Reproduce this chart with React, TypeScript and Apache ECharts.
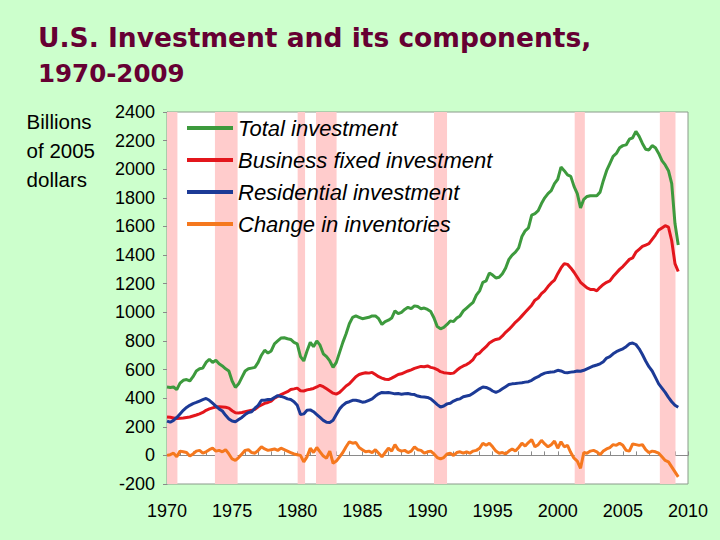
import React, { useEffect, useRef } from "react";
import * as echarts from "echarts";

// Quarterly data, 1970Q1 .. 2009Q2 (billions of 2005 dollars)
const startYear = 1970;

const totalInvestment = [
  478, 475, 478, 460, // 1970
  505, 525, 530, 520, // 1971
  550, 590, 605, 610, // 1972
  650, 672, 650, 665, // 1973
  640, 625, 605, 590, // 1974
  520, 475, 500, 545, // 1975
  590, 605, 610, 615, // 1976
  650, 700, 735, 715, // 1977
  730, 780, 800, 820, // 1978
  822, 815, 810, 790, // 1979
  780, 690, 660, 730, // 1980
  790, 760, 800, 770, // 1981
  710, 690, 660, 615, // 1982
  650, 720, 790, 850, // 1983
  920, 965, 975, 965, // 1984
  955, 960, 965, 975, // 1985
  975, 955, 915, 935, // 1986
  945, 960, 1010, 990, // 1987
  1000, 1020, 1035, 1025, // 1988
  1045, 1040, 1025, 1030, // 1989
  1020, 1005, 960, 900, // 1990
  885, 895, 915, 940, // 1991
  935, 960, 975, 1010, // 1992
  1030, 1050, 1070, 1120, // 1993
  1150, 1210, 1220, 1275, // 1994
  1260, 1240, 1245, 1270, // 1995
  1310, 1370, 1400, 1420, // 1996
  1450, 1530, 1570, 1590, // 1997
  1680, 1690, 1710, 1760, // 1998
  1800, 1830, 1850, 1900, // 1999
  1930, 2015, 1990, 1960, // 2000
  1950, 1880, 1830, 1730, // 2001
  1790, 1810, 1815, 1815, // 2002
  1815, 1840, 1920, 1990, // 2003
  2040, 2090, 2110, 2150, // 2004
  2165, 2170, 2210, 2220, // 2005
  2265, 2230, 2180, 2140, // 2006
  2135, 2165, 2150, 2110, // 2007
  2060, 2030, 1990, 1900, // 2008
  1620, 1470, // 2009
];

const businessFixed = [
  268, 266, 262, 258,
  260, 262, 265, 268,
  275, 282, 290, 300,
  315, 325, 332, 338,
  340, 338, 336, 330,
  312, 298, 296, 300,
  305, 310, 315, 322,
  340, 352, 364, 370,
  380, 400, 412, 425,
  435, 445, 460, 465,
  470, 452, 450, 458,
  462, 468, 478, 490,
  480, 465, 450, 435,
  428, 440, 462, 485,
  500, 525, 550, 565,
  572, 578, 575, 580,
  565, 550, 540, 532,
  530, 540, 552, 565,
  570, 580, 590, 598,
  608, 615, 622, 620,
  625, 615, 610, 600,
  585, 578, 575, 572,
  575, 595, 612, 625,
  635, 650, 670, 705,
  715, 740, 760, 785,
  800, 810, 815, 835,
  860, 880, 905, 930,
  950, 975, 1000, 1025,
  1050, 1085, 1100, 1130,
  1150, 1180, 1205, 1225,
  1270, 1310, 1340, 1335,
  1310, 1280, 1245, 1210,
  1190, 1170, 1160, 1160,
  1150, 1175, 1195, 1210,
  1220, 1250, 1275, 1300,
  1320, 1345, 1370, 1380,
  1420, 1440, 1460, 1470,
  1480, 1510, 1540, 1575,
  1590, 1605, 1595, 1500,
  1340, 1285,
];

const residential = [
  240, 232, 245, 265,
  290, 315, 335, 350,
  362, 370, 380, 390,
  398, 385, 365, 345,
  325, 310, 280, 255,
  240, 235, 250, 265,
  285, 300, 305, 330,
  350, 385, 385, 390,
  390, 405, 418, 412,
  405, 395, 390, 375,
  350, 285, 290, 315,
  318, 305, 285, 265,
  245, 232, 230, 245,
  285, 325, 350, 368,
  375, 385, 385, 380,
  372, 375, 385, 395,
  415, 430, 440, 438,
  440, 435, 430, 432,
  428, 430, 432, 428,
  425, 415, 410, 408,
  405, 395, 375, 355,
  338, 345, 360, 365,
  380, 390, 395, 410,
  415, 420, 435, 450,
  465, 478, 475, 465,
  450, 440, 450, 465,
  480, 495, 500, 502,
  505, 508, 512, 515,
  525, 540, 550, 565,
  575, 580, 582, 585,
  595, 590, 580, 578,
  582, 585, 590, 588,
  595, 605, 615, 625,
  632, 640, 655, 680,
  690, 710, 725, 735,
  745, 760, 780, 785,
  775, 745, 705, 660,
  620, 590, 545, 500,
  470, 440, 405, 375,
  350, 336,
];

const inventories = [
  0, 5, 15, -10,
  30, 25, 20, -5,
  10, 30, 35, 15,
  25, 40, 50, 30,
  35, 25, 40, 10,
  -25, -35, -15, 10,
  35, 40, 20, 15,
  35, 60, 45, 35,
  40, 45, 35, 50,
  40, 30, 20, 10,
  5, 0, -45, -10,
  50, 20, 55, 25,
  -5, -20, 30, -55,
  -40, -10, 20, 60,
  95, 85, 90, 55,
  40, 25, 30, 20,
  40, 15, -10, 20,
  50, 30, 75, 40,
  30, 35, 20, 30,
  60, 40, 35, 15,
  25, 30, 10, -15,
  -25, -15, 10, 15,
  0, 20, 25, 15,
  25, 15, 30, 35,
  50, 85, 70, 85,
  60, 30, 15, 20,
  10, 30, 45, 30,
  55, 85, 65, 90,
  110, 60, 75, 105,
  80, 60, 75, 100,
  50, 95, 60, 70,
  20, -20, -40, -90,
  20, 15, 30, 35,
  25, 5, 30, 45,
  55, 75, 70, 85,
  70, 35, 30, 80,
  75, 70, 75, 40,
  20, 30, 25, 15,
  -10, -35, -45, -80,
  -115, -150,
];

const seriesNames = [
  "Total investment",
  "Business fixed investment",
  "Residential investment",
  "Change in inventories",
];
const seriesColors = ["#3d9a3d", "#e3161c", "#1c3a96", "#f5781e"];

// Recession periods (fractional years)
const recessions: [number, number][] = [
  [1970.0, 1970.8],
  [1973.68, 1975.42],
  [1980.03, 1980.6],
  [1981.44, 1983.02],
  [1990.5, 1991.5],
  [2001.3, 2002.08],
  [2007.84, 2009.04],
];

const titleLines = ["U.S. Investment and its components,", "1970-2009"];
const unitLabel = "Billions\nof 2005\ndollars";

const yTicks = { min: -200, max: 2400, interval: 200 };
const xTicks = { min: 1970, max: 2010, interval: 5 };

function toPoints(values: number[]) {
  return values.map((v, i) => [startYear + i * 0.25, v]);
}

export default function App() {
  const ref = useRef<HTMLDivElement>(null);

  useEffect(() => {
    if (!ref.current) return;
    const chart = echarts.init(ref.current, undefined, { renderer: "svg" });
    const allValues = [totalInvestment, businessFixed, residential, inventories];
    const font = "'Liberation Sans', Arial, sans-serif";
    const titleFont = "'DejaVu Sans', Verdana, sans-serif";

    chart.setOption({
      animation: false,
      backgroundColor: "#ccffcc",
      graphic: [
        {
          type: "text",
          left: 38,
          top: 24,
          style: {
            text: titleLines[0],
            fontFamily: titleFont,
            fontWeight: "bold",
            fontSize: 26.5,
            fill: "#660033",
          },
        },
        {
          type: "text",
          left: 38,
          top: 61,
          style: {
            text: titleLines[1],
            fontFamily: titleFont,
            fontWeight: "bold",
            fontSize: 24.5,
            fill: "#660033",
          },
        },
        {
          type: "text",
          right: 720 - 95,
          top: 107,
          style: {
            text: unitLabel,
            fontFamily: font,
            fontSize: 20.5,
            lineHeight: 29,
            fill: "#000",
            align: "right",
          },
        },
      ],
      legend: {
        data: seriesNames,
        orient: "vertical",
        left: 187,
        top: 116,
        padding: 0,
        itemWidth: 46,
        itemHeight: 4,
        itemGap: 8,
        icon: "rect",
        textStyle: {
          fontFamily: font,
          fontStyle: "italic",
          fontSize: 22,
          lineHeight: 24,
          color: "#000",
        },
      },
      grid: {
        left: 167,
        right: 32,
        top: 112,
        bottom: 56,
        show: true,
        backgroundColor: "#ffffff",
        borderColor: "#8a9a8a",
        borderWidth: 1,
      },
      xAxis: {
        type: "value",
        min: xTicks.min,
        max: xTicks.max,
        interval: xTicks.interval,
        axisLine: { show: true, lineStyle: { color: "#8a8a8a" } },
        axisTick: { show: true, inside: true, length: 4, lineStyle: { color: "#8a8a8a" } },
        minorTick: { show: true, splitNumber: 5, length: 4, lineStyle: { color: "#8a8a8a" } },
        splitLine: { show: false },
        axisLabel: {
          fontFamily: font,
          fontSize: 18,
          color: "#000",
          margin: 18,
          formatter: (v: number) => String(Math.round(v)),
        },
      },
      yAxis: {
        type: "value",
        min: yTicks.min,
        max: yTicks.max,
        interval: yTicks.interval,
        axisLine: { show: true, lineStyle: { color: "#8a8a8a" } },
        axisTick: { show: true, length: 4, lineStyle: { color: "#8a8a8a" } },
        splitLine: { show: false },
        axisLabel: {
          fontFamily: font,
          fontSize: 18,
          color: "#000",
          margin: 12,
          formatter: (v: number) => String(v),
        },
      },
      series: [
        {
          name: "recessions",
          type: "line",
          data: [],
          z: 1,
          silent: true,
          markArea: {
            silent: true,
            itemStyle: { color: "#ffcccc" },
            data: recessions.map(([a, b]) => [{ xAxis: a }, { xAxis: b }]),
          },
        },
        ...seriesNames.map((name, k) => ({
          name,
          type: "line",
          data: toPoints(allValues[k]),
          showSymbol: false,
          symbol: "none",
          z: 3,
          lineStyle: { width: 3, color: seriesColors[k] },
          itemStyle: { color: seriesColors[k] },
        })),
      ],
    });
    return () => chart.dispose();
  }, []);

  return <div ref={ref} style={{ width: 720, height: 540, position: "absolute", left: 0, top: 0 }} />;
}
